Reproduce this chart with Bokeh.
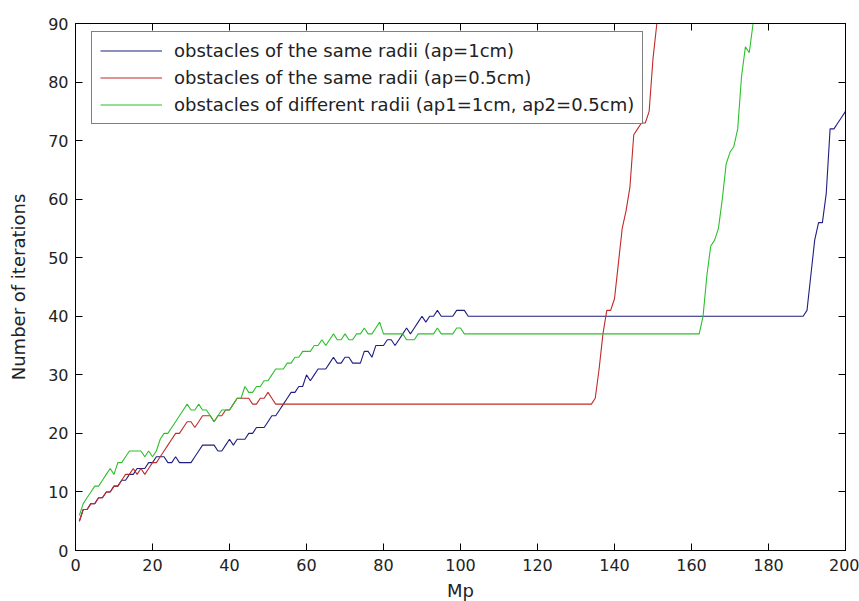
from bokeh.plotting import figure
from bokeh.models import LinearAxis, FixedTicker, Range1d, CustomJSTickFormatter, Legend
from bokeh.embed import file_html
from bokeh.resources import INLINE

# ---- data ----
blue_mp = list(range(1, 103)) + [189, 190, 191, 192, 193, 194, 195, 196, 197, 198, 199, 200]
blue_it = [5, 7, 7, 8, 8, 9, 9, 10, 10, 11,
           11, 12, 12, 13, 13, 14, 14, 14, 15, 15,
           16, 16, 16, 15, 15, 16, 15, 15, 15, 15,
           16, 17, 18, 18, 18, 18, 17, 17, 18, 19,
           18, 19, 19, 19, 20, 20, 21, 21, 21, 22,
           23, 23, 24, 25, 26, 27, 27, 28, 28, 30,
           29, 30, 31, 31, 31, 32, 33, 32, 32, 33,
           33, 32, 32, 32, 34, 34, 33, 35, 35, 35,
           36, 36, 35, 36, 37, 38, 37, 38, 39, 40,
           39, 40, 40, 41, 40, 40, 40, 40, 41, 41,
           41, 40,
           40, 41, 47, 53, 56, 56, 61, 72, 72, 73, 74, 75]

red_mp = list(range(1, 54)) + [134, 135, 136, 137, 138, 139, 140, 141, 142, 143, 144,
                               145, 146, 147, 148, 149, 150, 151]
red_it = [5, 7, 7, 8, 8, 9, 9, 10, 10, 11,
          11, 12, 13, 13, 14, 13, 14, 13, 14, 15,
          15, 16, 17, 18, 19, 20, 20, 21, 22, 22,
          21, 22, 23, 23, 23, 22, 23, 23, 24, 24,
          25, 26, 26, 26, 26, 25, 25, 26, 26, 27,
          26, 25, 25,
          25, 26, 31, 37, 41, 41, 43, 49, 55, 58, 62,
          71, 72, 73, 73, 75, 84, 90]

green_mp = list(range(1, 102)) + [162, 163, 164, 165, 166, 167, 168, 169, 170, 171,
                                  172, 173, 174, 175, 176]
green_it = [6, 8, 9, 10, 11, 11, 12, 13, 14, 13,
            15, 15, 16, 17, 17, 17, 17, 16, 17, 16,
            17, 19, 20, 20, 21, 22, 23, 24, 25, 24,
            24, 25, 24, 24, 23, 22, 23, 24, 24, 24,
            25, 26, 26, 28, 27, 27, 28, 28, 29, 29,
            30, 31, 31, 31, 32, 32, 33, 33, 34, 34,
            34, 35, 35, 36, 35, 36, 37, 36, 36, 37,
            36, 36, 37, 37, 38, 37, 37, 38, 39, 37,
            37, 37, 37, 37, 37, 36, 36, 36, 37, 37,
            37, 37, 37, 38, 37, 37, 37, 37, 38, 38,
            37,
            37, 40, 47, 52, 53, 55, 60, 66, 68, 69,
            72, 81, 86, 85, 90]

labels = ["obstacles of the same radii (ap=1cm)",
          "obstacles of the same radii (ap=0.5cm)",
          "obstacles of different radii (ap1=1cm, ap2=0.5cm)"]
colors = ["#1e1e80", "#c02a2a", "#2cc02c"]

x_ticks = [0, 20, 40, 60, 80, 100, 120, 140, 160, 180, 200]
y_ticks = [0, 10, 20, 30, 40, 50, 60, 70, 80, 90]

FONT = "DejaVu Sans"

p = figure(frame_width=770, frame_height=527, output_backend="svg", toolbar_location=None,
           x_range=Range1d(0, 200), y_range=Range1d(0, 90),
           min_border_left=75, min_border_right=14, min_border_top=23, min_border_bottom=40)
p.background_fill_color = "white"
p.border_fill_color = "white"
p.grid.visible = False
p.outline_line_color = "black"
p.outline_line_width = 1

for ax in (p.xaxis[0], p.yaxis[0]):
    ax.major_tick_in = 7
    ax.major_tick_out = 0
    ax.minor_tick_line_color = None
    ax.major_label_text_font = FONT
    ax.major_label_text_font_size = "16px"
    ax.major_label_text_color = "#222222"
    ax.axis_label_text_font = FONT
    ax.axis_label_text_font_size = "18px"
    ax.axis_label_text_font_style = "normal"
    ax.axis_label_text_color = "#222222"
    ax.axis_line_color = "black"
    ax.major_tick_line_color = "black"

p.xaxis[0].ticker = FixedTicker(ticks=x_ticks)
p.yaxis[0].ticker = FixedTicker(ticks=y_ticks)
p.xaxis[0].axis_label = "Mp"
p.yaxis[0].axis_label = "Number of iterations"
p.xaxis[0].major_label_standoff = 8
p.yaxis[0].major_label_standoff = 7
p.xaxis[0].axis_label_standoff = 6
p.yaxis[0].axis_label_standoff = 16

blank = CustomJSTickFormatter(code="return ''")
top = LinearAxis(ticker=FixedTicker(ticks=x_ticks), formatter=blank,
                 major_tick_in=7, major_tick_out=0, minor_tick_line_color=None,
                 major_label_standoff=0, major_label_text_font_size="1px")
right = LinearAxis(ticker=FixedTicker(ticks=y_ticks), formatter=blank,
                   major_tick_in=7, major_tick_out=0, minor_tick_line_color=None,
                   major_label_standoff=0, major_label_text_font_size="1px")
p.add_layout(top, "above")
p.add_layout(right, "right")

renderers = []
for mp, it, c in zip([blue_mp, red_mp, green_mp], [blue_it, red_it, green_it], colors):
    r = p.line(mp, it, line_color=c, line_width=1.1)
    renderers.append(r)

legend = Legend(items=[(lab, [r]) for lab, r in zip(labels, renderers)],
                location=(16, 426))
legend.border_line_color = "black"
legend.border_line_width = 1
legend.background_fill_color = "white"
legend.background_fill_alpha = 1
legend.label_text_font = FONT
legend.label_text_font_size = "18px"
legend.label_text_color = "#222222"
legend.glyph_width = 62
legend.glyph_height = 21
legend.label_height = 21
legend.label_standoff = 12
legend.spacing = 6
legend.padding = 8
legend.margin = 0
p.add_layout(legend, "center")

open("out.html", "w").write(file_html(p, INLINE))
